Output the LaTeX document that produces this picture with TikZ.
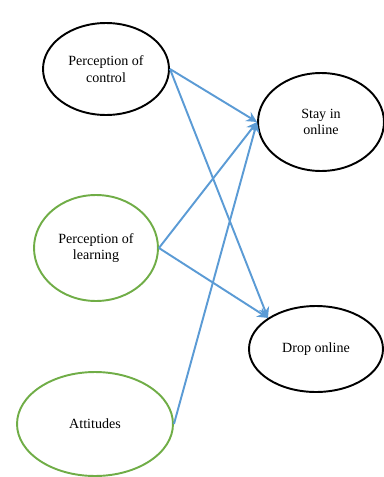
\documentclass[tikz,border=0pt]{standalone}
\usepackage{fontspec}
\setmainfont{Liberation Serif}
\usetikzlibrary{arrows.meta,shapes.geometric}
\definecolor{arrowblue}{RGB}{91,155,213}
\definecolor{leafgreen}{RGB}{112,173,71}
\tikzset{
    factor/.style={ellipse, draw=black, line width=1.1pt, align=center,
        font=\fontsize{8}{9.5}\selectfont, inner sep=0pt},
    greenfactor/.style={factor, draw=leafgreen},
    link/.style={-{Stealth[length=6pt,width=6pt]}, draw=arrowblue, line width=1.1pt}
}
\begin{document}
\begin{tikzpicture}[x=0.02cm,y=-0.02cm]

    \useasboundingbox (0,0) rectangle (384,477);

    % causes on the left
    \node[factor, minimum width=2.52cm, minimum height=1.84cm] (control) at (106,69)
        {Perception of\\control};
    \node[greenfactor, minimum width=2.48cm, minimum height=2.12cm] (learning) at (96,248)
        {Perception of\\learning};
    \node[greenfactor, minimum width=3.12cm, minimum height=2.08cm] (attitude) at (95,424)
        {Attitudes};

    % outcomes on the right
    \node[factor, minimum width=2.52cm, minimum height=1.96cm] (stay) at (321,122)
        {Stay in\\online};
    \node[factor, minimum width=2.68cm, minimum height=1.72cm] (drop) at (316,349)
        {Drop online};

    % arrows
    \draw[link] (control.east) -- (stay.west);
    \draw[link] (control.east) -- (drop.north west);
    \draw[link] (learning.east) -- (stay.west);
    \draw[link] (learning.east) -- (drop.north west);
    \draw[link] (attitude.east) -- (stay.west);

\end{tikzpicture}
\end{document}
